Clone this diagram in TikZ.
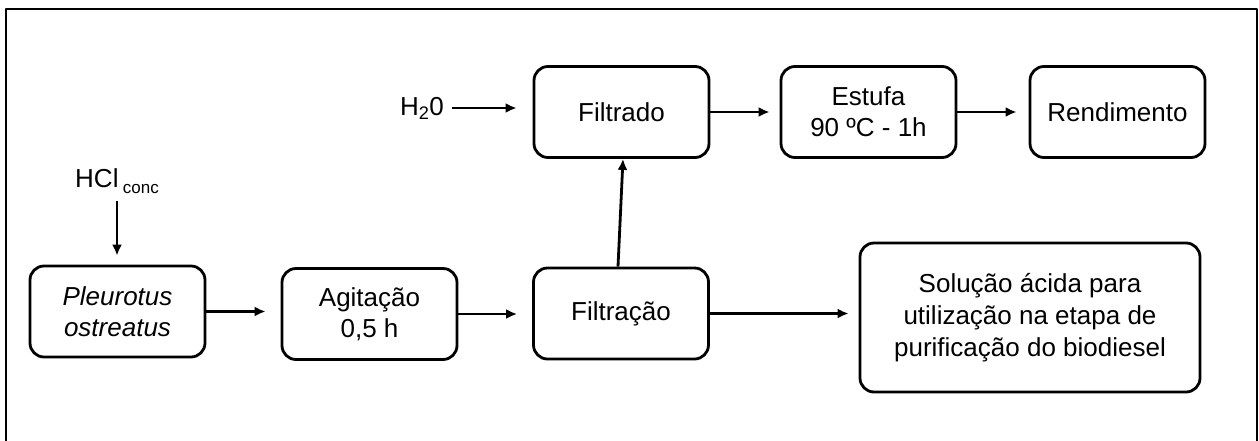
\documentclass[tikz,border=0pt]{standalone}
\usepackage{fontspec}
\setmainfont{Liberation Sans}
\usetikzlibrary{arrows.meta}
\begin{document}
\begin{tikzpicture}[x=1pt, y=-1pt, font=\fontsize{26}{31}\selectfont, line join=round, >={Latex[length=11pt,width=10pt]},
  etapa/.style={draw, line width=2.8pt, rounded corners=14pt, align=center, minimum width=175pt, minimum height=91pt, inner sep=0pt},
  seta/.style={->, line width=2.8pt, shorten >=12pt}]
\useasboundingbox (0,0) rectangle (1259,440);
\draw[line width=2.2pt] (6,9) rectangle (1257,470);
% linha de baixo
\node[etapa] (pleurotus) at (117.5,311.5) {\textit{Pleurotus}\\\textit{ostreatus}};
\node[etapa] (agitacao) at (369.5,314) {Agitação\\0,5 h};
\node[etapa] (filtracao) at (621,313.5) {Filtração};
\node[etapa, minimum width=340pt, minimum height=149pt, font=\fontsize{26}{32}\selectfont] (solucao) at (1030,317.5) {Solução ácida para\\utilização na etapa de\\purificação do biodiesel};
% linha de cima
\node[etapa] (filtrado) at (621.5,112) {Filtrado};
\node[etapa] (estufa) at (868.5,112) {Estufa\\90 ºC - 1h};
\node[etapa] (rendimento) at (1117.5,112) {Rendimento};
\node[inner sep=2pt] (hcl) at (117,181) {HCl\,{\fontsize{17}{17}\selectfont\raisebox{-6pt}{conc}}};
\node[inner sep=2pt] (agua) at (422,108) {H\textsubscript{2}0};
% setas
\draw[seta, shorten >=9pt, shorten <=5pt] (hcl.south) -- (hcl.south |- pleurotus.north);
\draw[seta, shorten >=15pt] (pleurotus.east) -- (pleurotus.east -| agitacao.west);
\draw[seta, shorten >=15pt] (agitacao.east) -- (agitacao.east -| filtracao.west);
\draw[seta, shorten >=10pt] (filtracao.east) -- (filtracao.east -| solucao.west);
\draw[seta, shorten >=0pt] ([xshift=-3pt]filtracao.north) -- ([xshift=1.5pt]filtrado.south);
\draw[seta, shorten >=16pt, shorten <=6pt] (agua.east) -- (agua.east -| filtrado.west);
\draw[seta, shorten >=10pt] (filtrado.east) -- (estufa.west);
\draw[seta] (estufa.east) -- (rendimento.west);
\end{tikzpicture}
\end{document}
